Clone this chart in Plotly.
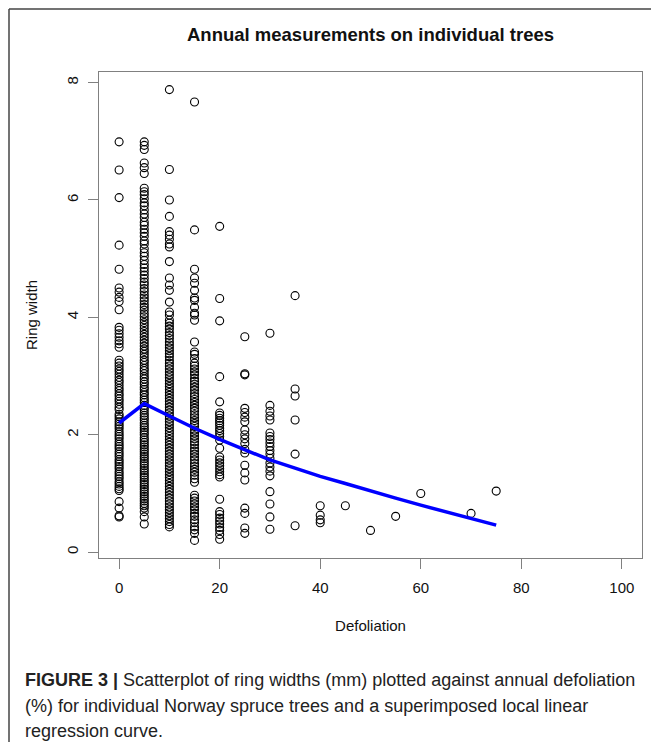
import plotly.graph_objects as go

# ---- data ----
defol_levels = [0, 5, 10, 15, 20, 25, 30, 35, 40, 45, 50, 55, 60, 70, 75]

ring_d0 = [6.99, 6.51, 6.04, 5.23, 4.82, 4.50, 4.43, 4.34, 4.27, 4.13, 3.83, 3.78, 3.72, 3.66,
           3.60, 3.55, 3.49, 3.27, 3.22, 3.17, 3.12, 3.08, 3.03, 2.98, 2.93, 2.89, 2.84, 2.79,
           2.75, 2.70, 2.66, 2.61, 2.57, 2.52, 2.47, 2.43, 2.35, 2.31, 2.27, 2.22, 2.18, 2.14,
           2.10, 2.05, 2.01, 1.97, 1.93, 1.88, 1.84, 1.80, 1.76, 1.71, 1.67, 1.63, 1.58, 1.54,
           1.50, 1.46, 1.42, 1.37, 1.33, 1.29, 1.25, 1.20, 1.16, 1.12, 1.08, 1.05, 0.86, 0.75,
           0.62, 0.60]
ring_d5 = [6.99, 6.93, 6.86, 6.63, 6.55, 6.45, 6.20, 6.14, 6.09, 6.02, 5.95, 5.90, 5.83, 5.76,
           5.70, 5.62, 5.57, 5.50, 5.44, 5.38, 5.30, 5.25, 5.17, 5.10, 5.04, 4.97, 4.90, 4.84,
           4.78, 4.72, 4.66, 4.60, 4.55, 4.49, 4.44, 4.38, 4.33, 4.28, 4.22, 4.17, 4.12, 4.06,
           4.01, 3.96, 3.91, 3.86, 3.81, 3.76, 3.71, 3.66, 3.61, 3.56, 3.51, 3.46, 3.42, 3.37,
           3.32, 3.27, 3.23, 3.18, 3.13, 3.09, 3.04, 2.99, 2.95, 2.90, 2.86, 2.81, 2.77, 2.72,
           2.68, 2.63, 2.59, 2.55, 2.50, 2.46, 2.42, 2.37, 2.33, 2.29, 2.25, 2.20, 2.16, 2.12,
           2.08, 2.04, 2.00, 1.95, 1.91, 1.87, 1.83, 1.79, 1.75, 1.71, 1.67, 1.63, 1.59, 1.55,
           1.51, 1.47, 1.43, 1.39, 1.35, 1.31, 1.27, 1.23, 1.19, 1.15, 1.11, 1.07, 1.03, 0.99,
           0.95, 0.91, 0.87, 0.83, 0.79, 0.75, 0.69, 0.60, 0.48]
ring_d10 = [7.88, 6.52, 6.00, 5.72, 5.46, 5.40, 5.33, 5.25, 5.20, 4.95, 4.67, 4.55, 4.46, 4.26,
            4.09, 4.04, 3.95, 3.90, 3.85, 3.80, 3.74, 3.69, 3.64, 3.58, 3.53, 3.48, 3.43, 3.38,
            3.33, 3.27, 3.22, 3.17, 3.12, 3.07, 3.02, 2.97, 2.92, 2.87, 2.82, 2.77, 2.72, 2.67,
            2.62, 2.57, 2.52, 2.47, 2.42, 2.37, 2.32, 2.27, 2.22, 2.17, 2.12, 2.07, 2.02, 1.97,
            1.92, 1.87, 1.82, 1.77, 1.72, 1.67, 1.62, 1.57, 1.52, 1.47, 1.42, 1.37, 1.32, 1.27,
            1.22, 1.17, 1.12, 1.07, 1.02, 0.97, 0.92, 0.87, 0.82, 0.77, 0.72, 0.67, 0.62, 0.57,
            0.52, 0.47, 0.43]
ring_d15 = [7.67, 5.49, 4.82, 4.67, 4.58, 4.46, 4.33, 4.29, 4.17, 4.07, 4.04, 3.95, 3.58, 3.41,
            3.37, 3.30, 3.22, 3.17, 3.12, 3.07, 3.02, 2.96, 2.91, 2.86, 2.81, 2.76, 2.70, 2.65,
            2.60, 2.55, 2.50, 2.45, 2.40, 2.34, 2.29, 2.24, 2.19, 2.14, 2.08, 2.03, 1.98, 1.93,
            1.88, 1.83, 1.77, 1.72, 1.67, 1.62, 1.57, 1.51, 1.46, 1.41, 1.36, 1.31, 1.25, 1.19,
            0.97, 0.92, 0.87, 0.82, 0.77, 0.72, 0.66, 0.61, 0.55, 0.50, 0.43, 0.38, 0.32, 0.20]
ring_d20 = [5.55, 4.32, 3.94, 2.99, 2.56, 2.37, 2.33, 2.28, 2.24, 2.20, 2.16, 2.11, 2.07, 2.02,
            1.97, 1.91, 1.77, 1.62, 1.57, 1.52, 1.47, 1.42, 1.37, 1.32, 1.28, 0.90, 0.69, 0.64,
            0.58, 0.53, 0.48, 0.42, 0.37, 0.30, 0.22]
ring_d25 = [3.67, 3.04, 3.02, 2.45, 2.38, 2.30, 2.22, 2.08, 2.00, 1.93, 1.85, 1.75, 1.69, 1.48,
            1.35, 1.23, 0.75, 0.66, 0.41, 0.32]
ring_d30 = [3.73, 2.50, 2.40, 2.32, 2.25, 2.03, 1.97, 1.92, 1.86, 1.80, 1.73, 1.67, 1.60, 1.52,
            1.45, 1.38, 1.30, 1.03, 0.82, 0.60, 0.39]
ring_d35 = [4.37, 2.78, 2.66, 2.25, 1.67, 0.45]
ring_d40 = [0.79, 0.63, 0.55, 0.50]
ring_d45 = [0.79]
ring_d50 = [0.37]
ring_d55 = [0.61]
ring_d60 = [1.00]
ring_d70 = [0.66]
ring_d75 = [1.04]

ring_columns = [ring_d0, ring_d5, ring_d10, ring_d15, ring_d20, ring_d25, ring_d30, ring_d35,
                ring_d40, ring_d45, ring_d50, ring_d55, ring_d60, ring_d70, ring_d75]

# local linear regression curve
curve_x = [0, 5, 10, 15, 20, 25, 30, 35, 40, 45, 50, 55, 60, 65, 70, 75]
curve_y = [2.20, 2.53, 2.32, 2.11, 1.92, 1.74, 1.57, 1.43, 1.29, 1.17, 1.04, 0.92, 0.80, 0.69,
           0.57, 0.46]

x_ticks = [0, 20, 40, 60, 80, 100]
y_ticks = [0, 2, 4, 6, 8]

title_text = "Annual measurements on individual trees"
x_title = "Defoliation"
y_title = "Ring width"
caption_lines = [
    "<b>FIGURE 3 |</b> Scatterplot of ring widths (mm) plotted against annual defoliation",
    "(%) for individual Norway spruce trees and a superimposed local linear",
    "regression curve.",
]

# ---- build ----
pts_x, pts_y = [], []
for lvl, col in zip(defol_levels, ring_columns):
    pts_x += [lvl] * len(col)
    pts_y += col

OFF = 8                       # page body margin
W, H = 659 - 2 * OFF, 750 - 2 * OFF
L, R, T, B = 99 - OFF, 642 - OFF, 72 - OFF, 558 - OFF  # plot box in figure pixels


def px(x):   # reference page x -> paper
    return (x - OFF - L) / (R - L)


def py(y):   # reference page y -> paper
    return (B - (y - OFF)) / (B - T)


fig = go.Figure()
fig.add_trace(go.Scatter(
    x=pts_x, y=pts_y, mode="markers",
    marker=dict(symbol="circle-open", size=8, color="black", line=dict(width=1.1)),
    showlegend=False, hoverinfo="x+y"))
fig.add_trace(go.Scatter(
    x=curve_x, y=curve_y, mode="lines",
    line=dict(color="#0000ff", width=3.5), showlegend=False))

font_main = "Liberation Sans, Arial, sans-serif"
axis_common = dict(showgrid=False, zeroline=False, showline=True, mirror=True,
                   linecolor="#808080", linewidth=1, ticks="outside", ticklen=10,
                   tickcolor="#808080", tickwidth=1,
                   tickfont=dict(family=font_main, size=15, color="#111"))

fig.update_layout(
    width=W, height=H,
    margin=dict(l=L, r=W - R, t=T, b=H - B, pad=0),
    paper_bgcolor="white", plot_bgcolor="white",
    xaxis=dict(range=[-4, 104], tickvals=x_ticks, ticklabelstandoff=6,
               title=dict(text=x_title, font=dict(family=font_main, size=15, color="#111"),
                          standoff=25),
               **axis_common),
    yaxis=dict(range=[-0.10, 8.18], tickvals=y_ticks, tickangle=-90, ticklabelstandoff=4,
               title=dict(text=y_title, font=dict(family=font_main, size=15, color="#111"),
                          standoff=22),
               **axis_common),
    font=dict(family=font_main),
)

fig.add_annotation(x=px(370), y=py(34), xref="paper", yref="paper", text="<b>" + title_text + "</b>",
                   showarrow=False, xanchor="center", yanchor="middle",
                   font=dict(family=font_main, size=18.5, color="#111"))

cap_y = [680, 706, 731]
for line, yy in zip(caption_lines, cap_y):
    fig.add_annotation(x=px(23), y=py(yy), xref="paper", yref="paper", text=line,
                       showarrow=False, xanchor="left", yanchor="middle", align="left",
                       font=dict(family="Liberation Sans Narrow, Arial Narrow, sans-serif",
                                 size=18, color="#222"))

# outer figure frame (left and top edges)
fig.add_shape(type="line", xref="paper", yref="paper", x0=px(9), x1=px(9), y0=py(9), y1=py(760),
              line=dict(color="#444", width=1.5))
fig.add_shape(type="line", xref="paper", yref="paper", x0=px(9), x1=px(670), y0=py(9), y1=py(9),
              line=dict(color="#444", width=1.5))

fig.write_html("out.html")
